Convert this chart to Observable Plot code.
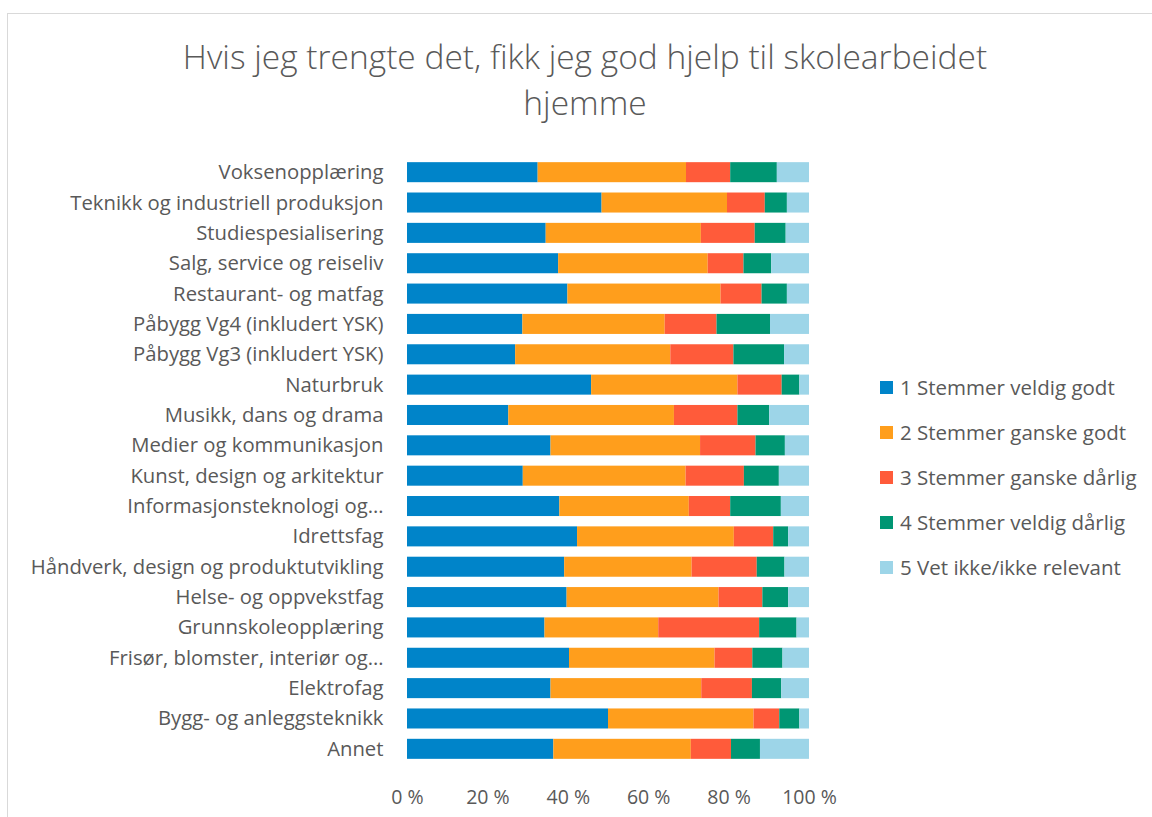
<!DOCTYPE html>
<html>
<head>
<meta charset="utf-8">
<script src="https://cdn.jsdelivr.net/npm/d3@7"></script>
<script src="https://cdn.jsdelivr.net/npm/@observablehq/plot@0.6"></script>
<style>
  body { margin: 0; background: #fff; font-family: "Open Sans", "Noto Sans", sans-serif; }
  #wrap { position: relative; width: 1152px; height: 817px; overflow: hidden; }
  #frame { position: absolute; left: 7px; top: 13px; width: 1200px; height: 900px; border-top: 1px solid #d9d9d9; border-left: 1px solid #d9d9d9; }
  #title { position: absolute; left: 0; top: 33px; width: 1170px; text-align: center; font-size: 33.5px; line-height: 46px; color: #595959; font-weight: 300; }
  #chart { position: absolute; left: 0; top: 0; }
  #legend { position: absolute; left: 880px; top: 373px; font-size: 20.5px; color: #595959; }
  #legend div { height: 45px; display: flex; align-items: flex-start; white-space: nowrap; }
  #legend span.sw { display: inline-block; width: 13px; height: 13px; margin-right: 7px; margin-top: 8px; }
</style>
</head>
<body>
<div id="wrap">
  <div id="frame"></div>
  <div id="title">Hvis jeg trengte det, fikk jeg god hjelp til skolearbeidet<br>hjemme</div>
  <div id="chart"></div>
  <div id="legend"></div>
</div>
<script>
const categories = [
  "Voksenopplæring",
  "Teknikk og industriell produksjon",
  "Studiespesialisering",
  "Salg, service og reiseliv",
  "Restaurant- og matfag",
  "Påbygg Vg4 (inkludert YSK)",
  "Påbygg Vg3 (inkludert YSK)",
  "Naturbruk",
  "Musikk, dans og drama",
  "Medier og kommunikasjon",
  "Kunst, design og arkitektur",
  "Informasjonsteknologi og…",
  "Idrettsfag",
  "Håndverk, design og produktutvikling",
  "Helse- og oppvekstfag",
  "Grunnskoleopplæring",
  "Frisør, blomster, interiør og…",
  "Elektrofag",
  "Bygg- og anleggsteknikk",
  "Annet"
];
const responses = [
  "1 Stemmer veldig godt",
  "2 Stemmer ganske godt",
  "3 Stemmer ganske dårlig",
  "4 Stemmer veldig dårlig",
  "5 Vet ikke/ikke relevant"
];
const colors = ["#0084C9", "#FF9E1C", "#FF5B3A", "#009673", "#9DD5E8"];

const s1 = [32.5, 48.4, 34.5, 37.6, 39.9, 28.7, 26.9, 45.8, 25.2, 35.7, 28.8, 37.9, 42.3, 39.1, 39.7, 34.2, 40.3, 35.7, 50.0, 36.4];
const s2 = [36.9, 31.2, 38.6, 37.2, 38.1, 35.4, 38.6, 36.4, 41.2, 37.2, 40.5, 32.2, 39.0, 31.7, 37.8, 28.3, 36.2, 37.5, 36.2, 34.2];
const s3 = [11.0,  9.4, 13.4,  8.9, 10.2, 12.9, 15.7, 11.0, 15.8, 13.8, 14.5, 10.3,  9.8, 16.2, 10.9, 25.1,  9.4, 12.6,  6.4, 10.0];
const s4 = [11.6,  5.5,  7.7,  6.9,  6.3, 13.3, 12.6,  4.4,  7.9,  7.3,  8.7, 12.6,  3.7,  6.9,  6.4,  9.3,  7.5,  7.3,  5.0,  7.2];
const s5 = [ 8.0,  5.5,  5.8,  9.4,  5.5,  9.7,  6.2,  2.4,  9.9,  6.0,  7.5,  7.0,  5.2,  6.1,  5.2,  3.1,  6.6,  6.9,  2.4, 12.2];
const xTicks = [0, 20, 40, 60, 80, 100];

const series = [s1, s2, s3, s4, s5];
const rows = [];
categories.forEach((c, i) => {
  const total = series.reduce((a, s) => a + s[i], 0);
  series.forEach((s, k) => rows.push({ category: c, response: responses[k], order: k, value: s[i] / total * 100 }));
});

const chart = Plot.plot({
  width: 1152,
  height: 817,
  marginLeft: 407,
  marginRight: 343,
  marginTop: 157,
  marginBottom: 53,
  style: { fontFamily: "'Open Sans', 'Noto Sans', sans-serif", background: "transparent", color: "#595959" },
  x: { domain: [0, 100], ticks: xTicks, tickFormat: d => d + " %", tickSize: 0, label: null },
  y: { domain: categories, paddingInner: 0.34, paddingOuter: 0.17, align: 0.5, round: false, label: null, tickSize: 0 },
  color: { domain: responses, range: colors },
  marks: [
    Plot.gridX(xTicks, { stroke: "#d9d9d9", strokeOpacity: 1, strokeWidth: 1.5, y1: 157, y2: 769 }),
    Plot.ruleX([0], { stroke: "#d9d9d9", strokeWidth: 1.5, y1: 157, y2: 769 }),
    Plot.barX(rows, Plot.stackX({ x: "value", y: "category", fill: "response", order: "order" })),
    Plot.axisX({ ticks: xTicks, tickFormat: d => d + " %", tickSize: 0, tickPadding: 26, fontSize: 19.5, fill: "#595959", label: null }),
    Plot.axisY({ tickSize: 0, tickPadding: 24, fontSize: 20.3, fill: "#595959", label: null })
  ]
});
document.getElementById("chart").appendChild(chart);

const legend = document.getElementById("legend");
responses.forEach((r, k) => {
  const d = document.createElement("div");
  const sw = document.createElement("span");
  sw.className = "sw";
  sw.style.background = colors[k];
  d.appendChild(sw);
  d.appendChild(document.createTextNode(r));
  legend.appendChild(d);
});
</script>
</body>
</html>
